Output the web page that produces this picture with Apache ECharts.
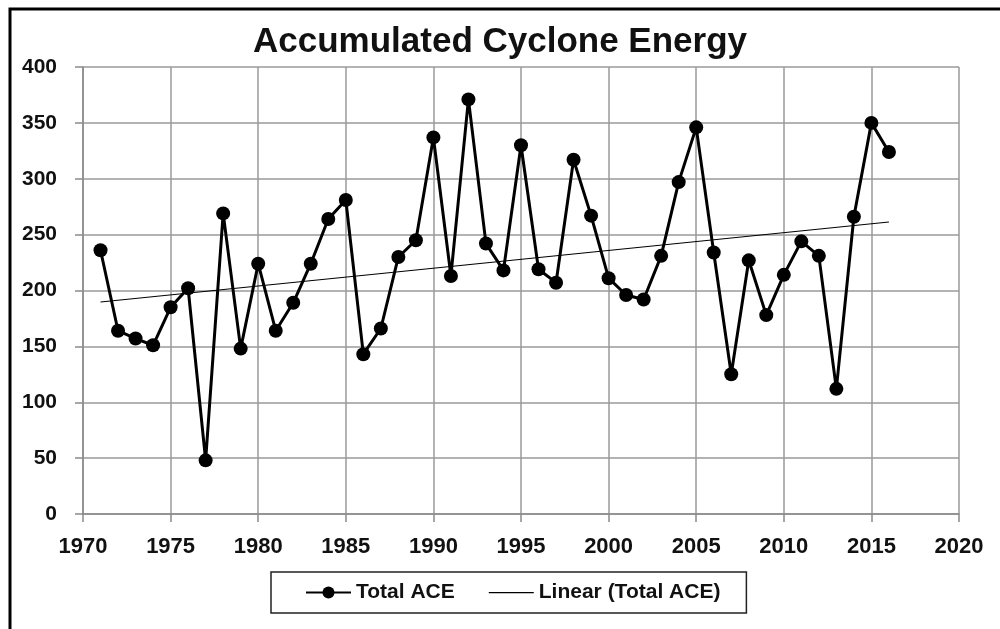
<!DOCTYPE html>
<html>
<head>
<meta charset="utf-8">
<script src="https://cdn.jsdelivr.net/npm/echarts@6/dist/echarts.min.js"></script>
<style>html,body{margin:0;padding:0;background:#fff;}#c{width:1000px;height:629px;}</style>
</head>
<body>
<div id="c"></div>
<script>
const years = [1971,1972,1973,1974,1975,1976,1977,1978,1979,1980,1981,1982,1983,1984,1985,1986,1987,1988,1989,1990,1991,1992,1993,1994,1995,1996,1997,1998,1999,2000,2001,2002,2003,2004,2005,2006,2007,2008,2009,2010,2011,2012,2013,2014,2015,2016];
const totalACE = [236,164,157,151,185,202,48,269,148,224,164,189,224,264,281,143,166,230,245,337,213,371,242,218,330,219,207,317,267,211,196,192,231,297,346,234,125,227,178,214,244,231,112,266,350,324];
const trendYears = [1971, 2016];
const trendValues = [189.7, 261.3];
const titleText = 'Accumulated Cyclone Energy';
const seriesNames = ['Total ACE', 'Linear (Total ACE)'];

const FONT = 'Liberation Sans';
const chart = echarts.init(document.getElementById('c'), null, {renderer: 'canvas'});
chart.setOption({
  backgroundColor: '#ffffff',
  animation: false,
  title: {
    text: titleText,
    left: 'center',
    top: 20,
    textStyle: {fontFamily: FONT, fontWeight: 'bold', fontSize: 35, color: '#111'}
  },
  graphic: [{
    type: 'rect',
    shape: {x: 10, y: 9, width: 1100, height: 800},
    style: {fill: 'none', stroke: '#000', lineWidth: 3},
    silent: true
  }],
  legend: {
    left: 271,
    top: 572,
    padding: [10, 26, 10, 34],
    borderColor: '#222',
    borderWidth: 1.5,
    itemWidth: 45,
    itemHeight: 15,
    itemGap: 34,
    textStyle: {fontFamily: FONT, fontWeight: 'bold', fontSize: 21, color: '#111'},
    data: [
      {name: seriesNames[0]},
      {name: seriesNames[1], icon: 'path://M0,0L0.01,0L0.01,0.01Z M0,7L45,7L45,8.3L0,8.3Z M0,15L0.01,15L0.01,14.99Z'}
    ]
  },
  grid: {left: 83, right: 41, top: 67, bottom: 115, containLabel: false},
  xAxis: {
    type: 'value',
    min: 1970, max: 2020, interval: 5,
    axisLine: {show: true, lineStyle: {color: '#8a8a8a', width: 1.5}},
    axisTick: {show: true, length: 8, lineStyle: {color: '#8a8a8a', width: 1.5}},
    axisLabel: {margin: 22, fontFamily: FONT, fontWeight: 'bold', fontSize: 22, color: '#111', formatter: v => String(v)},
    splitLine: {show: true, lineStyle: {color: '#9a9a9a', width: 1.5}}
  },
  yAxis: {
    type: 'value',
    min: 0, max: 400, interval: 50,
    axisLine: {show: true, lineStyle: {color: '#8a8a8a', width: 1.5}},
    axisTick: {show: true, length: 8, lineStyle: {color: '#8a8a8a', width: 1.5}},
    axisLabel: {margin: 26, fontFamily: FONT, fontWeight: 'bold', fontSize: 21, color: '#111'},
    splitLine: {show: true, lineStyle: {color: '#9a9a9a', width: 1.5}}
  },
  series: [
    {
      name: seriesNames[0],
      type: 'line',
      data: years.map((y, i) => [y, totalACE[i]]),
      symbol: 'circle',
      symbolSize: 14,
      lineStyle: {color: '#000', width: 3},
      itemStyle: {color: '#000'},
      z: 3
    },
    {
      name: seriesNames[1],
      type: 'line',
      data: trendYears.map((y, i) => [y, trendValues[i]]),
      symbol: 'none',
      lineStyle: {color: '#000', width: 1.2},
      itemStyle: {color: '#000'},
      z: 2
    }
  ]
});
</script>
</body>
</html>
